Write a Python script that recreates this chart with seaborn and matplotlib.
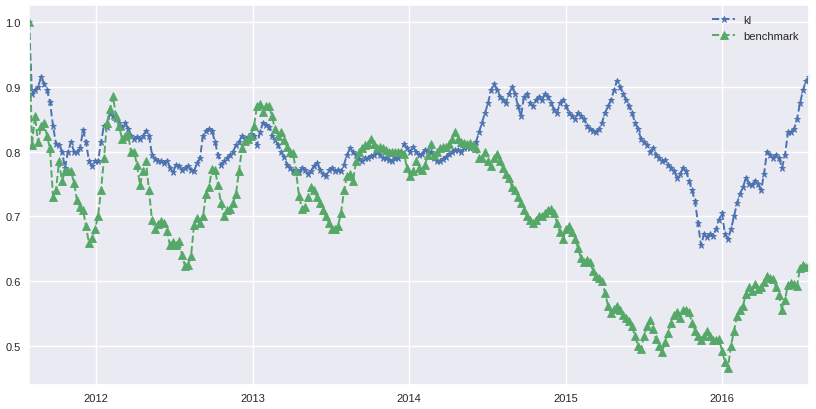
import numpy as np
import pandas as pd
import matplotlib
matplotlib.use('Agg')
import matplotlib.pyplot as plt
import matplotlib.dates as mdates
import seaborn as sns

# weekly values, 2011-07-29 .. 2016-07-22
start_date = '2011-07-29'
series_names = ['kl', 'benchmark']

kl = [
    1.000, 0.890, 0.895, 0.900, 0.915, 0.905, 0.895, 0.877, 0.840, 0.812,
    0.810, 0.800, 0.775, 0.800, 0.815, 0.800, 0.800, 0.805, 0.833, 0.815,
    0.785, 0.778, 0.785, 0.785, 0.815, 0.840, 0.838, 0.860, 0.855, 0.850,
    0.845, 0.838, 0.845, 0.835, 0.825, 0.820, 0.822, 0.820, 0.825, 0.832,
    0.825, 0.795, 0.788, 0.785, 0.785, 0.782, 0.785, 0.775, 0.768, 0.780,
    0.778, 0.772, 0.775, 0.778, 0.772, 0.770, 0.782, 0.790, 0.825, 0.832,
    0.835, 0.832, 0.815, 0.795, 0.780, 0.785, 0.790, 0.795, 0.800, 0.810,
    0.815, 0.825, 0.820, 0.822, 0.828, 0.825, 0.810, 0.830, 0.845, 0.842,
    0.838, 0.825, 0.818, 0.810, 0.800, 0.792, 0.780, 0.775, 0.770, 0.772,
    0.768, 0.775, 0.772, 0.765, 0.770, 0.778, 0.782, 0.772, 0.765, 0.762,
    0.772, 0.775, 0.770, 0.772, 0.770, 0.780, 0.795, 0.805, 0.800, 0.795,
    0.788, 0.785, 0.790, 0.790, 0.793, 0.795, 0.800, 0.795, 0.790, 0.790,
    0.787, 0.785, 0.790, 0.790, 0.800, 0.812, 0.805, 0.800, 0.807, 0.800,
    0.795, 0.797, 0.803, 0.800, 0.800, 0.790, 0.785, 0.785, 0.788, 0.792,
    0.797, 0.800, 0.803, 0.803, 0.800, 0.805, 0.808, 0.805, 0.810, 0.815,
    0.830, 0.845, 0.860, 0.875, 0.895, 0.905, 0.895, 0.885, 0.880, 0.875,
    0.890, 0.900, 0.890, 0.870, 0.855, 0.885, 0.890, 0.875, 0.870, 0.880,
    0.885, 0.880, 0.890, 0.885, 0.875, 0.865, 0.860, 0.875, 0.880, 0.870,
    0.860, 0.855, 0.850, 0.860, 0.855, 0.850, 0.840, 0.835, 0.832, 0.830,
    0.835, 0.845, 0.860, 0.870, 0.880, 0.895, 0.910, 0.900, 0.890, 0.880,
    0.870, 0.860, 0.845, 0.835, 0.820, 0.815, 0.810, 0.800, 0.805, 0.795,
    0.790, 0.785, 0.787, 0.780, 0.775, 0.770, 0.760, 0.765, 0.775, 0.770,
    0.755, 0.740, 0.723, 0.690, 0.655, 0.672, 0.668, 0.672, 0.670, 0.680,
    0.695, 0.705, 0.672, 0.665, 0.680, 0.700, 0.720, 0.735, 0.745, 0.760,
    0.750, 0.748, 0.755, 0.750, 0.740, 0.765, 0.800, 0.795, 0.790, 0.795,
    0.790, 0.775, 0.795, 0.830, 0.830, 0.835, 0.850, 0.875, 0.895, 0.910,
    0.915,
]

benchmark = [
    1.000, 0.810, 0.855, 0.815, 0.840, 0.845, 0.825, 0.805, 0.730, 0.740,
    0.785, 0.754, 0.770, 0.770, 0.770, 0.752, 0.725, 0.715, 0.710, 0.685,
    0.658, 0.666, 0.680, 0.700, 0.740, 0.790, 0.845, 0.866, 0.886, 0.855,
    0.840, 0.820, 0.825, 0.828, 0.800, 0.800, 0.780, 0.748, 0.770, 0.785,
    0.740, 0.694, 0.680, 0.688, 0.692, 0.690, 0.677, 0.655, 0.660, 0.655,
    0.662, 0.640, 0.623, 0.625, 0.638, 0.686, 0.697, 0.690, 0.700, 0.735,
    0.745, 0.774, 0.772, 0.748, 0.720, 0.700, 0.710, 0.712, 0.720, 0.735,
    0.770, 0.805, 0.817, 0.820, 0.825, 0.840, 0.871, 0.874, 0.862, 0.870,
    0.870, 0.855, 0.835, 0.825, 0.830, 0.818, 0.808, 0.800, 0.798, 0.770,
    0.732, 0.712, 0.715, 0.730, 0.745, 0.740, 0.730, 0.720, 0.710, 0.700,
    0.690, 0.680, 0.680, 0.685, 0.705, 0.740, 0.763, 0.765, 0.754, 0.785,
    0.800, 0.806, 0.810, 0.812, 0.820, 0.812, 0.805, 0.808, 0.805, 0.803,
    0.800, 0.800, 0.800, 0.800, 0.800, 0.797, 0.775, 0.762, 0.770, 0.785,
    0.775, 0.771, 0.780, 0.795, 0.812, 0.795, 0.800, 0.805, 0.807, 0.808,
    0.812, 0.820, 0.830, 0.820, 0.815, 0.814, 0.812, 0.813, 0.810, 0.805,
    0.790, 0.790, 0.800, 0.786, 0.778, 0.790, 0.797, 0.785, 0.775, 0.765,
    0.760, 0.745, 0.740, 0.730, 0.720, 0.710, 0.700, 0.695, 0.690, 0.695,
    0.700, 0.700, 0.705, 0.710, 0.712, 0.705, 0.690, 0.675, 0.665, 0.680,
    0.685, 0.675, 0.665, 0.651, 0.635, 0.630, 0.632, 0.630, 0.615, 0.607,
    0.605, 0.600, 0.582, 0.562, 0.550, 0.556, 0.562, 0.555, 0.548, 0.542,
    0.538, 0.530, 0.515, 0.500, 0.495, 0.515, 0.530, 0.540, 0.525, 0.510,
    0.500, 0.490, 0.505, 0.520, 0.535, 0.548, 0.552, 0.543, 0.555, 0.555,
    0.552, 0.535, 0.523, 0.515, 0.509, 0.515, 0.523, 0.515, 0.509, 0.509,
    0.510, 0.492, 0.474, 0.466, 0.500, 0.523, 0.546, 0.555, 0.562, 0.580,
    0.590, 0.585, 0.595, 0.588, 0.590, 0.598, 0.607, 0.605, 0.603, 0.590,
    0.578, 0.555, 0.571, 0.594, 0.597, 0.595, 0.592, 0.620, 0.625, 0.622,
    0.623,
]

dates = pd.date_range(start_date, periods=len(kl), freq='7D')
df = pd.DataFrame({'date': dates, 'kl': kl, 'benchmark': benchmark})

sns.set_theme(style='darkgrid')
plt.rcParams['font.family'] = ['Liberation Sans', 'DejaVu Sans']

fig = plt.figure(figsize=(8.16, 4.10), dpi=100)
ax = fig.add_axes([29 / 816, 24 / 410, 780 / 816, 380 / 410])

blue = '#4C72B0'
green = '#55A868'
sns.lineplot(data=df, x='date', y='kl', ax=ax, color=blue, linestyle='--',
             linewidth=1.4, marker='*', markersize=5, markeredgecolor=blue,
             markeredgewidth=0.6, label='kl')
sns.lineplot(data=df, x='date', y='benchmark', ax=ax, color=green, linestyle='--',
             linewidth=1.4, marker='^', markersize=6, markeredgecolor=green,
             markeredgewidth=0.6, label='benchmark')

ax.set_xlim(dates[0], dates[-1])
ax.set_ylim(0.439, 1.027)
ax.set_yticks([0.5, 0.6, 0.7, 0.8, 0.9, 1.0])
ax.xaxis.set_major_locator(mdates.YearLocator())
ax.xaxis.set_major_formatter(mdates.DateFormatter('%Y'))
ax.set_xlabel('')
ax.set_ylabel('')
ax.tick_params(labelsize=8, colors='#262626', length=0, pad=6)
ax.legend(loc='upper right', frameon=False, fontsize=8)

fig.savefig('out.png', dpi=100)
